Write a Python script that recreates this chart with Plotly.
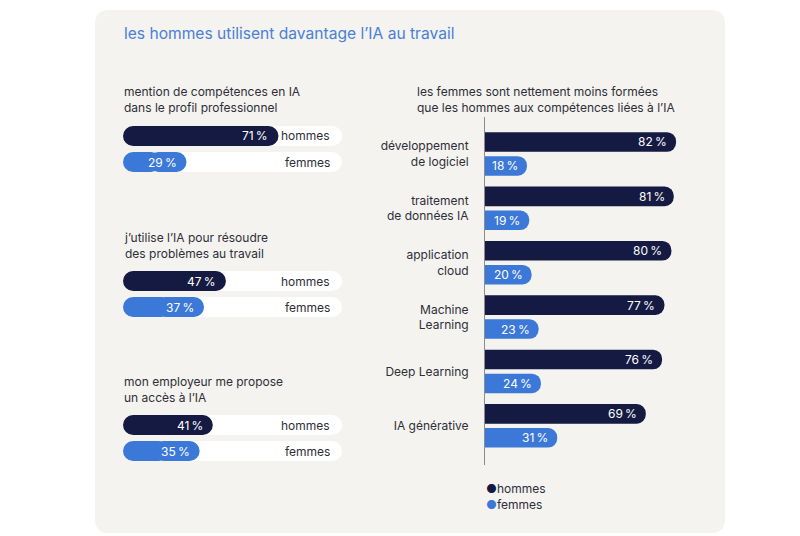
import plotly.graph_objects as go

# ---------------- data ----------------
main_title = "les hommes utilisent davantage l’IA au travail"

left_titles = [
    "mention de compétences en IA<br>dans le profil professionnel",
    "j’utilise l’IA pour résoudre<br>des problèmes au travail",
    "mon employeur me propose<br>un accès à l’IA",
]
left_hommes = [71, 47, 41]
left_femmes = [29, 37, 35]
groups = ["hommes", "femmes"]

right_title = "les femmes sont nettement moins formées<br>que les hommes aux compétences liées à l’IA"
skills = ["développement de logiciel", "traitement de données IA", "application cloud",
          "Machine Learning", "Deep Learning", "IA générative"]
skill_labels = ["développement<br>de logiciel", "traitement<br>de données IA", "application<br>cloud",
                "Machine<br>Learning", "Deep Learning", "IA générative"]
right_hommes = [82, 81, 80, 77, 76, 69]
right_femmes = [18, 19, 20, 23, 24, 31]

# ---------------- style ----------------
NAVY = "#141a42"
BLUE = "#3b78d8"
CARD = "#f4f3ef"
TEXT = "#2e2e38"
TITLE = "#4a80d8"
FONT = "Inter, Roboto, sans-serif"
OFF = 8  # page body margin
W, H = 800 - OFF, 536 - OFF


def px_x(p):
    return (p - OFF) / W


def px_y(p):
    return 1 - (p - OFF) / H


fig = go.Figure()
annotations = []

left_domains = [(123, 175), (268, 320), (412, 464)]
title_centers = [99, 245, 389]

for k in range(3):
    ax = "" if k == 0 else str(k + 1)
    xa, ya = "x" + ax, "y" + ax
    vals = [left_hommes[k], left_femmes[k]]
    cols = [NAVY, BLUE]
    # white tracks (two overlapping halves for rounded ends on both sides)
    for base_f, len_f in [(0.4, 0.6), (0.6, -0.6)]:
        fig.add_trace(go.Bar(
            y=groups, x=[100 * len_f] * 2, base=[100 * base_f] * 2, orientation="h",
            marker=dict(color="white", cornerradius=10, line=dict(width=0)),
            width=0.77, xaxis=xa, yaxis=ya, showlegend=False, hoverinfo="skip"))
    # value bars
    for gi, g in enumerate(groups):
        v = vals[gi]
        for base_f, len_f in [(0.4, 0.6), (0.6, -0.6)]:
            fig.add_trace(go.Bar(
                y=[g], x=[v * len_f], base=[v * base_f], orientation="h",
                marker=dict(color=cols[gi], cornerradius=10, line=dict(width=0)),
                width=0.77, xaxis=xa, yaxis=ya, showlegend=False, hoverinfo="skip"))
        annotations.append(dict(
            x=v, y=g, xref=xa, yref=ya, text=f"{v}\u202f%", showarrow=False,
            xanchor="right", xshift=-8, font=dict(color="white", size=12, family=FONT)))
        annotations.append(dict(
            x=100, y=g, xref=xa, yref=ya, text=g, showarrow=False,
            xanchor="right", xshift=-10, font=dict(color=TEXT, size=12, family=FONT)))
    dom = left_domains[k]
    fig.update_layout(**{
        "xaxis" + ax: dict(domain=[px_x(123), px_x(342)], range=[0, 100], visible=False,
                           fixedrange=True, anchor=ya),
        "yaxis" + ax: dict(domain=[px_y(dom[1]), px_y(dom[0])], type="category",
                           categoryorder="array", categoryarray=groups,
                           range=[1.5, -0.5], visible=False, anchor=xa),
    })
    annotations.append(dict(
        x=px_x(122), y=px_y(title_centers[k]), xref="paper", yref="paper",
        text=left_titles[k], showarrow=False, xanchor="left", yanchor="middle", align="left",
        font=dict(color=TEXT, size=12, family=FONT)))

# ---------------- right panel ----------------
fig.add_trace(go.Bar(
    y=skills, x=right_hommes, orientation="h", name="hommes",
    marker=dict(color=NAVY, cornerradius=10, line=dict(width=0)),
    width=0.36, offset=-0.40, xaxis="x4", yaxis="y4", showlegend=False, hoverinfo="skip"))
fig.add_trace(go.Bar(
    y=skills, x=right_femmes, orientation="h", name="femmes",
    marker=dict(color=BLUE, cornerradius=10, line=dict(width=0)),
    width=0.36, offset=0.04, xaxis="x4", yaxis="y4", showlegend=False, hoverinfo="skip"))

for s, h, f in zip(skills, right_hommes, right_femmes):
    annotations.append(dict(x=h, y=s, xref="x4", yref="y4", text=f"{h}\u202f%", showarrow=False,
                            xanchor="right", xshift=-7, yshift=12,
                            font=dict(color="white", size=12, family=FONT)))
    annotations.append(dict(x=f, y=s, xref="x4", yref="y4", text=f"{f}\u202f%", showarrow=False,
                            xanchor="right", xshift=-7, yshift=-12,
                            font=dict(color="white", size=12, family=FONT)))

fig.update_layout(
    xaxis4=dict(domain=[px_x(485), px_x(718)], range=[0, 100], visible=False, anchor="y4"),
    yaxis4=dict(domain=[px_y(465), px_y(117)], type="category", categoryorder="array",
                categoryarray=skills, tickvals=skills, ticktext=skill_labels,
                range=[5.72, -0.68], showline=True, linecolor="#8c8c8c", linewidth=1,
                showgrid=False, zeroline=False, ticks="outside", ticklen=13,
                tickcolor="rgba(0,0,0,0)", tickfont=dict(color=TEXT, size=12, family=FONT),
                anchor="x4"),
)

annotations.append(dict(
    x=px_x(415), y=px_y(99), xref="paper", yref="paper", text=right_title,
    showarrow=False, xanchor="left", yanchor="middle", align="left",
    font=dict(color=TEXT, size=12, family=FONT)))

# legend
annotations.append(dict(
    x=px_x(484), y=px_y(488), xref="paper", yref="paper",
    text=f"<span style='color:{NAVY}'>●</span>hommes", showarrow=False,
    xanchor="left", yanchor="middle", font=dict(color=TEXT, size=12, family=FONT)))
annotations.append(dict(
    x=px_x(484), y=px_y(504), xref="paper", yref="paper",
    text=f"<span style='color:{BLUE}'>●</span>femmes", showarrow=False,
    xanchor="left", yanchor="middle", font=dict(color=TEXT, size=12, family=FONT)))

# main title
annotations.append(dict(
    x=px_x(122), y=px_y(34), xref="paper", yref="paper", text=main_title,
    showarrow=False, xanchor="left", yanchor="middle",
    font=dict(color=TITLE, size=15.6, family=FONT)))

# card background (rounded rectangle)
x0, x1 = px_x(95), px_x(725)
y0, y1 = px_y(533), px_y(10)
rx, ry = 14 / W, 14 / H
card_path = (f"M {x0+rx},{y1} L {x1-rx},{y1} Q {x1},{y1} {x1},{y1-ry} "
             f"L {x1},{y0+ry} Q {x1},{y0} {x1-rx},{y0} L {x0+rx},{y0} "
             f"Q {x0},{y0} {x0},{y0+ry} L {x0},{y1-ry} Q {x0},{y1} {x0+rx},{y1} Z")

fig.update_layout(
    width=W, height=H, margin=dict(l=0, r=0, t=0, b=0),
    paper_bgcolor="white", plot_bgcolor="rgba(0,0,0,0)",
    barmode="overlay", showlegend=False,
    font=dict(family=FONT, color=TEXT),
    annotations=annotations,
    shapes=[dict(type="path", path=card_path, xref="paper", yref="paper",
                 fillcolor=CARD, line=dict(width=0), layer="below")],
)

fig.write_html("out.html", config={"displayModeBar": False})
